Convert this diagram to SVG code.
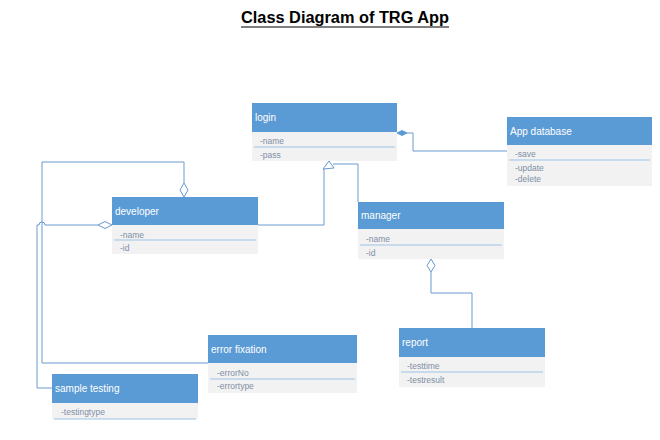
<svg xmlns="http://www.w3.org/2000/svg" width="660" height="440" viewBox="0 0 660 440">
<style>
.hdr{fill:#5B9BD5}
.body{fill:#F2F2F2}
.div{stroke:#9DC3E6;stroke-width:1}
.ht{font-family:"Liberation Sans",Arial,sans-serif;font-size:10px;fill:#FFFFFF}
.rt{font-family:"Liberation Sans",Arial,sans-serif;font-size:8.5px;fill:#7F8FA6}
.ln{fill:none;stroke:#6A9ACC;stroke-width:1}
.hol{fill:#FFFFFF;stroke:#6A9ACC;stroke-width:1}
.fil{fill:#5B9BD5;stroke:#5B9BD5;stroke-width:1}
.title{font-family:"Liberation Sans",Arial,sans-serif;font-size:16px;font-weight:bold;fill:#000}
</style>
<rect width="660" height="440" fill="#FFFFFF"/>
<text class="title" x="241" y="23" textLength="208" lengthAdjust="spacingAndGlyphs">Class Diagram of TRG App</text>
<line x1="241" y1="27" x2="449" y2="27" stroke="#000" stroke-width="1.2"/>

<g id="connectors">
  <path class="ln" d="M407,133 H413 V151 H507"/>
  <polygon class="fil" points="397,133 402,130.5 407,133 402,135.5"/>
  <path class="ln" d="M184,183 V162 H42 V363 H208"/>
  <polygon class="hol" points="184,197 180,190 184,183 188,190"/>
  <path class="ln" d="M98,225 H45 A3,3 0 0 0 39,225 H37 V388 H52"/>
  <polygon class="hol" points="112,225 105,221.5 98,225 105,228.5"/>
  <path class="ln" d="M258,225 H324 V169"/>
  <path class="ln" d="M358,202 V164 H333"/>
  <polygon class="hol" points="329,161 323,169 334,168"/>
  <path class="ln" d="M431,272 V293 H472 V328"/>
  <polygon class="hol" points="431,259 435,265.5 431,272 427,265.5"/>
</g>

<g id="login">
  <rect class="hdr" x="252" y="103" width="145" height="29"/>
  <rect class="body" x="252" y="132" width="145" height="29"/>
  <line class="div" x1="254" y1="147" x2="395" y2="147"/>
  <text class="ht" x="255" y="121">login</text>
  <text class="rt" x="260" y="144">-name</text>
  <text class="rt" x="260" y="158">-pass</text>
</g>

<g id="app-database">
  <rect class="hdr" x="507" y="117" width="145" height="28"/>
  <rect class="body" x="507" y="145" width="145" height="41"/>
  <line class="div" x1="509" y1="160" x2="650" y2="160"/>
  <text class="ht" x="510" y="135">App database</text>
  <text class="rt" x="515" y="157">-save</text>
  <text class="rt" x="515" y="171">-update</text>
  <text class="rt" x="515" y="182">-delete</text>
</g>

<g id="developer">
  <rect class="hdr" x="112" y="197" width="146" height="28"/>
  <rect class="body" x="112" y="225" width="146" height="29"/>
  <line class="div" x1="114" y1="240" x2="256" y2="240"/>
  <text class="ht" x="115" y="215">developer</text>
  <text class="rt" x="120" y="238">-name</text>
  <text class="rt" x="120" y="251">-id</text>
</g>

<g id="manager">
  <rect class="hdr" x="358" y="202" width="146" height="27"/>
  <rect class="body" x="358" y="229" width="146" height="30"/>
  <line class="div" x1="360" y1="245" x2="502" y2="245"/>
  <text class="ht" x="361" y="219">manager</text>
  <text class="rt" x="366" y="242">-name</text>
  <text class="rt" x="366" y="256">-id</text>
</g>

<g id="report">
  <rect class="hdr" x="399" y="328" width="146" height="29"/>
  <rect class="body" x="399" y="357" width="146" height="30"/>
  <line class="div" x1="401" y1="372" x2="543" y2="372"/>
  <text class="ht" x="402" y="346">report</text>
  <text class="rt" x="407" y="369">-testtime</text>
  <text class="rt" x="407" y="383">-testresult</text>
</g>

<g id="error-fixation">
  <rect class="hdr" x="208" y="335" width="149" height="28"/>
  <rect class="body" x="208" y="363" width="149" height="30"/>
  <line class="div" x1="210" y1="379" x2="355" y2="379"/>
  <text class="ht" x="211" y="353">error fixation</text>
  <text class="rt" x="217" y="376">-errorNo</text>
  <text class="rt" x="217" y="389">-errortype</text>
</g>

<g id="sample-testing">
  <rect class="hdr" x="52" y="374" width="146" height="29"/>
  <rect class="body" x="52" y="403" width="146" height="16"/>
  <line class="div" x1="54" y1="419" x2="196" y2="419"/>
  <text class="ht" x="55" y="392">sample testing</text>
  <text class="rt" x="61" y="415">-testingtype</text>
</g>
</svg>
